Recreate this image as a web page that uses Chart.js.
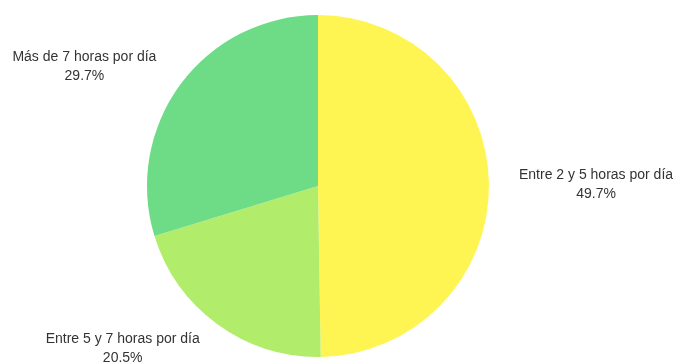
<!DOCTYPE html>
<html>
<head>
<meta charset="utf-8">
<script src="https://cdn.jsdelivr.net/npm/chart.js@4/dist/chart.umd.min.js"></script>
<style>
  html, body { margin: 0; padding: 0; background: #fff; }
  #wrap { width: 676px; height: 363px; position: relative; }
</style>
</head>
<body>
<div id="wrap"><canvas id="myChart"></canvas></div>
<script>
const categories = ['Entre 2 y 5 horas por día', 'Entre 5 y 7 horas por día', 'Más de 7 horas por día'];
const values = [49.7, 20.5, 29.7];
const colors = ['#FEF553', '#B1EC6B', '#6EDB87'];

// etiquetas fuera del pastel
const outerLabels = {
    id: 'outerLabels',
    afterDraw(chart) {
        const ctx = chart.ctx;
        const meta = chart.getDatasetMeta(0);
        ctx.save();
        ctx.font = '14px "Liberation Sans", Arial, sans-serif';
        ctx.fillStyle = '#333333';
        ctx.textBaseline = 'middle';
        meta.data.forEach((arc, i) => {
            const p = arc.getProps(['x', 'y', 'startAngle', 'endAngle', 'outerRadius'], true);
            const mid = (p.startAngle + p.endAngle) / 2;
            const r = p.outerRadius + 30;
            const cx = p.x + Math.cos(mid) * r;
            const cy = p.y + Math.sin(mid) * r;
            const c = Math.cos(mid);
            ctx.textAlign = c > 0.1 ? 'left' : (c < -0.1 ? 'right' : 'center');
            const name = chart.data.labels[i];
            const pct = chart.data.datasets[0].data[i].toFixed(1) + '%';
            const w1 = ctx.measureText(name).width;
            const w2 = ctx.measureText(pct).width;
            let x2 = cx;
            if (ctx.textAlign === 'left') x2 = cx + (w1 - w2) / 2;
            if (ctx.textAlign === 'right') x2 = cx - (w1 - w2) / 2;
            ctx.fillText(name, cx, cy - 9.5);
            ctx.fillText(pct, x2, cy + 9.5);
        });
        ctx.restore();
    }
};

new Chart(document.getElementById('myChart'), {
    type: 'pie',
    data: {
        labels: categories,
        datasets: [{
            data: values,
            backgroundColor: colors,
            borderWidth: 0
        }]
    },
    options: {
        responsive: true,
        maintainAspectRatio: false,
        animation: false,
        layout: { padding: { top: 15, bottom: 6, left: 100, right: 140 } },
        plugins: {
            legend: { display: false },
            tooltip: { enabled: false }
        }
    },
    plugins: [outerLabels]
});
</script>
</body>
</html>
